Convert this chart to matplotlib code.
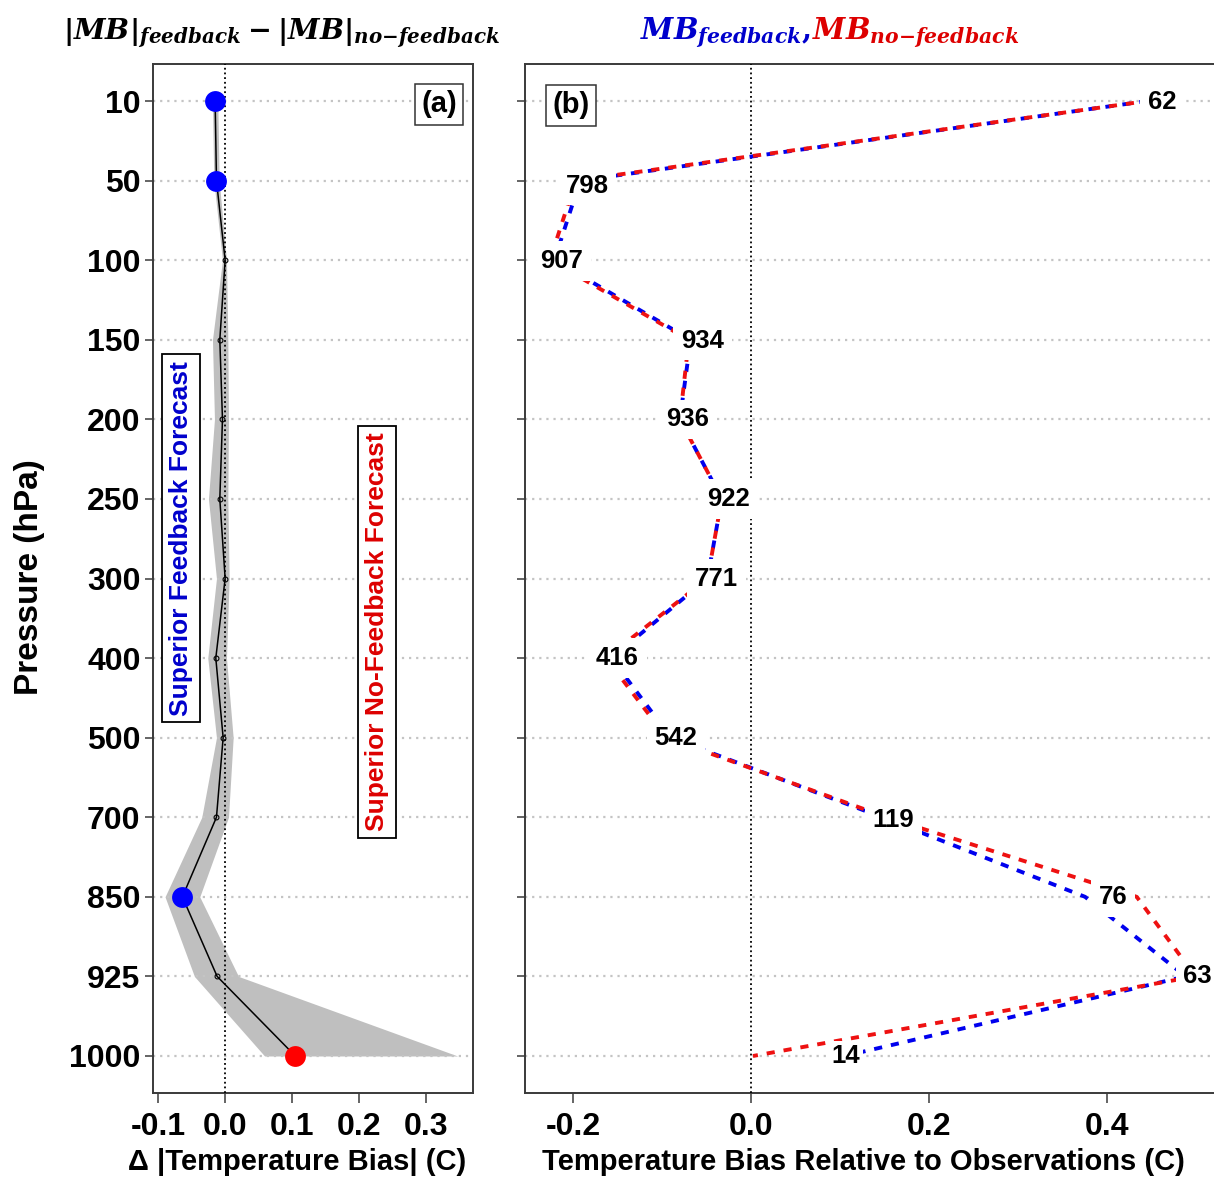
import numpy as np
import matplotlib
matplotlib.use("Agg")
import matplotlib.pyplot as plt

# ---------------- data ----------------
levels = ['10', '50', '100', '150', '200', '250', '300', '400', '500', '700', '850', '925', '1000']

# panel (a): |MB|feedback - |MB|no-feedback, with shaded range
delta_mean = [-0.015, -0.013, 0.000, -0.008, -0.004, -0.008, 0.000, -0.014, -0.003, -0.013, -0.064, -0.012, 0.105]
delta_lo = [-0.019, -0.017, -0.004, -0.019, -0.016, -0.025, -0.013, -0.026, -0.013, -0.035, -0.090, -0.046, 0.059]
delta_hi = [-0.011, -0.009, 0.002, 0.004, 0.005, 0.004, 0.006, 0.002, 0.012, 0.005, -0.038, 0.020, 0.348]

# panel (b): mean bias of each forecast
mb_feedback = [0.445, -0.192, -0.221, -0.068, -0.080, -0.033, -0.049, -0.157, -0.090, 0.147, 0.375, 0.488, 0.105]
mb_nofeedback = [0.445, -0.197, -0.226, -0.070, -0.080, -0.033, -0.049, -0.163, -0.095, 0.152, 0.433, 0.499, 0.002]
n_obs = [62, 798, 907, 934, 936, 922, 771, 416, 542, 119, 76, 63, 14]

xticks_a = [-0.1, 0.0, 0.1, 0.2, 0.3]
xticks_b = [-0.2, 0.0, 0.2, 0.4]

# label placement offsets (pixels) relative to the feedback point
label_dx = [15, 7, 7, 12, 8, 7, 9, 6, 5, 11, 28, 12, 1]
label_dy = [1, 5, 1, 1, 0, 0, 0, 0, 0, 3, 0, 0, 0]
label_pad = [0.3] * 12 + [0.12]

# ---------------- style ----------------
plt.rcParams['font.family'] = ['Liberation Sans', 'DejaVu Sans']
plt.rcParams['font.weight'] = 'bold'
plt.rcParams['mathtext.fontset'] = 'custom'
plt.rcParams['mathtext.rm'] = 'DejaVu Serif:bold'
plt.rcParams['mathtext.it'] = 'DejaVu Serif:bold:italic'
plt.rcParams['mathtext.bf'] = 'DejaVu Serif:bold'

W, H = 1214, 1182
fig = plt.figure(figsize=(W / 100, H / 100), dpi=100)

def frac(x0, y0, x1, y1):
    return [x0 / W, 1 - y1 / H, (x1 - x0) / W, (y1 - y0) / H]

ax_a = fig.add_axes(frac(153, 64, 473, 1093))
ax_b = fig.add_axes(frac(525, 64, 1240, 1093))

y = np.arange(len(levels))
px2pt = 72 / 100
grid_col = '#c4c4c4'
spine_col = '#3a3a3a'

for ax in (ax_a, ax_b):
    ax.set_ylim(len(levels) - 1 + 0.465, -0.465)
    ax.set_yticks(y)
    for yy in y:
        ax.axhline(yy, color=grid_col, ls=(0, (1, 2.2)), lw=1.6, zorder=2)
    ax.axvline(0, color='black', ls=(0, (1, 1.6)), lw=1.3, zorder=3)
    for s in ax.spines.values():
        s.set_color(spine_col)
        s.set_linewidth(1.4)
    ax.tick_params(axis='y', length=6, width=1.1, pad=3, labelsize=23, color=spine_col)
    ax.tick_params(axis='x', length=7, width=1.1, pad=7, labelsize=23, color=spine_col)

# ---- panel (a)
ax_a.fill_betweenx(y, delta_lo, delta_hi, color='#bfbfbf', lw=0, zorder=1)
ax_a.plot(delta_mean, y, color='black', lw=1.1, marker='o', ms=3.5, mfc='none',
          mec='black', mew=0.8, zorder=4)
lo = np.array(delta_lo); hi = np.array(delta_hi); dm = np.array(delta_mean)
neg = hi < 0
pos = lo > 0
ax_a.plot(dm[neg], y[neg], 'o', color='#0000ff', ms=15, mec='none', zorder=5)
ax_a.plot(dm[pos], y[pos], 'o', color='#ff0000', ms=15, mec='none', zorder=5)
ax_a.set_xlim(-0.108, 0.371)
ax_a.set_xticks(xticks_a)
ax_a.set_xticklabels([f'{v:.1f}' for v in xticks_a])
ax_a.set_yticklabels(levels)

box = dict(boxstyle='square,pad=0.25', fc='white', ec='black', lw=1.3)
ax_a.text(0.0875, 0.539, 'Superior Feedback Forecast', rotation=90, color='#0000cc',
          fontsize=19, fontweight='bold', ha='center', va='center',
          transform=ax_a.transAxes, bbox=box, zorder=6)
ax_a.text(0.70, 0.448, 'Superior No-Feedback Forecast', rotation=90, color='#dd0000',
          fontsize=19, fontweight='bold', ha='center', va='center',
          transform=ax_a.transAxes, bbox=box, zorder=6)
box2 = dict(boxstyle='square,pad=0.22', fc='white', ec='#333333', lw=1.1)
ax_a.text(0.894, 0.961, '(a)', fontsize=21, fontweight='bold', ha='center', va='center',
          transform=ax_a.transAxes, bbox=box2, zorder=6)

# ---- panel (b)
lw_b = 2.8
ax_b.plot(mb_feedback, y, color='#0000ee', lw=lw_b, ls=(0, (2.1, 2.3)),
          dash_capstyle='butt', zorder=4)
ax_b.plot(mb_nofeedback, y, color='#ee1111', lw=lw_b, ls=(0.9, (2.1, 2.3)),
          dash_capstyle='butt', zorder=4)
for i, n in enumerate(n_obs):
    ax_b.annotate(str(n), xy=(mb_feedback[i], y[i]),
                  xytext=(label_dx[i] * px2pt, -label_dy[i] * px2pt),
                  textcoords='offset points', ha='center', va='center',
                  fontsize=18.5, fontweight='bold',
                  bbox=dict(boxstyle=f'square,pad={label_pad[i]}', fc='white', ec='none'),
                  zorder=6)
ax_b.set_xlim(-0.254, 0.549)
ax_b.set_xticks(xticks_b)
ax_b.set_xticklabels([f'{v:.1f}' for v in xticks_b])
ax_b.set_yticklabels([])
ax_b.text(0.0643, 0.960, '(b)', fontsize=21, fontweight='bold', ha='center', va='center',
          transform=ax_b.transAxes, bbox=box2, zorder=6)

# ---- labels and titles
fig.text(30 / W, 1 - 577 / H, 'Pressure (hPa)', rotation=90, ha='center', va='center',
         fontsize=24, fontweight='bold')
fig.text(297 / W, 1 - 1162 / H, 'Δ |Temperature Bias| (C)', ha='center', va='center',
         fontsize=21, fontweight='bold')
fig.text(863 / W, 1 - 1162 / H, 'Temperature Bias Relative to Observations (C)',
         ha='center', va='center', fontsize=21, fontweight='bold')

fig.text(282 / W, 1 - 33 / H,
         r'$|MB|_{feedback} - |MB|_{no{-}feedback}$',
         ha='center', va='center', fontsize=20.5, color='black')
t1 = fig.text(640 / W, 1 - 33 / H, r'$MB_{feedback},$', ha='left', va='center',
              fontsize=21, color='#0000cc')
fig.canvas.draw()
bb = t1.get_window_extent()
fig.text(bb.x1 / W + 1 / W, t1.get_position()[1], r'$MB_{no{-}feedback}$', ha='left',
         va='center', fontsize=21, color='#dd0000')

fig.savefig('out.png', dpi=100)
